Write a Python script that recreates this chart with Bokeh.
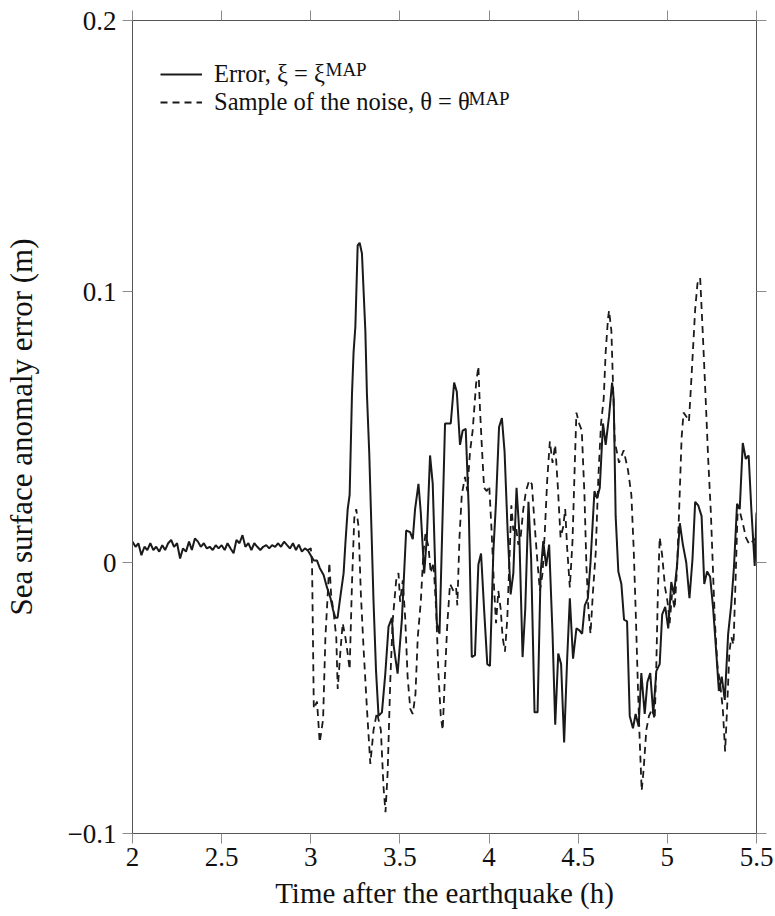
from bokeh.plotting import figure
from bokeh.models import LinearAxis, FixedTicker, Legend, LegendItem, Label, Range1d
from bokeh.embed import file_html
from bokeh.resources import INLINE

# ---- data ----
# Error, xi = xi^MAP  (time in hours, value in metres)
err_t = [2.000, 2.017, 2.033, 2.050, 2.067, 2.083, 2.100, 2.117, 2.133, 2.150,
         2.167, 2.183, 2.200, 2.217, 2.233, 2.250, 2.267, 2.283, 2.300, 2.317,
         2.333, 2.350, 2.367, 2.383, 2.400, 2.417, 2.433, 2.450, 2.467, 2.483,
         2.500, 2.517, 2.533, 2.550, 2.567, 2.583, 2.600, 2.617, 2.633, 2.650,
         2.667, 2.683, 2.700, 2.717, 2.733, 2.750, 2.767, 2.783, 2.800, 2.817,
         2.833, 2.850, 2.867, 2.883, 2.900, 2.917, 2.933, 2.950, 2.967, 2.983,
         3.000, 3.017, 3.035, 3.050, 3.072, 3.090, 3.110, 3.125, 3.138, 3.150,
         3.167, 3.184, 3.195, 3.207, 3.218, 3.231, 3.240, 3.250, 3.263, 3.274,
         3.287, 3.306, 3.315, 3.328, 3.340, 3.352, 3.366, 3.380, 3.399, 3.418,
         3.436, 3.455, 3.464, 3.487, 3.511, 3.535, 3.557, 3.572, 3.585, 3.604,
         3.617, 3.636, 3.651, 3.669, 3.684, 3.707, 3.722, 3.753, 3.785, 3.804,
         3.819, 3.837, 3.852, 3.869, 3.886, 3.903, 3.921, 3.940, 3.955, 3.972,
         3.990, 4.005, 4.024, 4.039, 4.056, 4.072, 4.087, 4.104, 4.121, 4.136,
         4.154, 4.169, 4.188, 4.203, 4.221, 4.236, 4.255, 4.272, 4.289, 4.304,
         4.320, 4.337, 4.356, 4.371, 4.388, 4.404, 4.421, 4.438, 4.453, 4.471,
         4.490, 4.506, 4.522, 4.537, 4.554, 4.569, 4.591, 4.606, 4.621, 4.639,
         4.654, 4.673, 4.690, 4.699, 4.710, 4.725, 4.742, 4.757, 4.774, 4.789,
         4.807, 4.822, 4.839, 4.854, 4.873, 4.888, 4.904, 4.921, 4.938, 4.957,
         4.971, 4.988, 5.005, 5.022, 5.037, 5.054, 5.070, 5.087, 5.106, 5.124,
         5.141, 5.156, 5.173, 5.192, 5.207, 5.223, 5.240, 5.257, 5.274, 5.289,
         5.305, 5.322, 5.341, 5.358, 5.374, 5.391, 5.406, 5.423, 5.440, 5.456,
         5.471, 5.490, 5.500]
err_v = [0.0077, 0.0058, 0.0071, 0.0027, 0.0058, 0.0046, 0.0071, 0.0046, 0.0058, 0.0040,
         0.0064, 0.0046, 0.0071, 0.0083, 0.0058, 0.0071, 0.0015, 0.0052, 0.0040, 0.0077,
         0.0046, 0.0089, 0.0077, 0.0058, 0.0071, 0.0052, 0.0058, 0.0046, 0.0064, 0.0052,
         0.0064, 0.0046, 0.0071, 0.0052, 0.0034, 0.0083, 0.0071, 0.0101, 0.0058, 0.0071,
         0.0046, 0.0071, 0.0058, 0.0046, 0.0058, 0.0064, 0.0052, 0.0064, 0.0058, 0.0071,
         0.0058, 0.0077, 0.0064, 0.0052, 0.0071, 0.0046, 0.0066, 0.0040, 0.0052, 0.0045,
         0.0026, 0.0007, 0.0007, -0.0020, -0.0046, -0.0090, -0.0130, -0.0175, -0.0204, -0.0204,
         -0.0120, -0.0040, 0.0080, 0.0197, 0.0250, 0.0620, 0.0776, 0.0870, 0.1170, 0.1180,
         0.1140, 0.0856, 0.0620, 0.0402, 0.0130, -0.0145, -0.0400, -0.0566, -0.0553, -0.0410,
         -0.0237, -0.0204, -0.0303, -0.0410, -0.0210, 0.0118, 0.0112, 0.0086, 0.0197, 0.0290,
         0.0184, -0.0040, 0.0092, 0.0395, 0.0290, -0.0224, -0.0263, 0.0513, 0.0513, 0.0664,
         0.0630, 0.0434, 0.0487, 0.0493, 0.0197, -0.0349, -0.0342, -0.0007, 0.0033, -0.0171,
         -0.0375, -0.0382, 0.0040, 0.0224, 0.0500, 0.0533, 0.0408, 0.0118, -0.0118, -0.0040,
         0.0276, 0.0118, -0.0349, -0.0171, 0.0224, 0.0013, -0.0553, -0.0553, -0.0040, 0.0079,
         -0.0013, 0.0066, -0.0263, -0.0599, -0.0336, -0.0375, -0.0664, -0.0355, -0.0132, -0.0355,
         -0.0243, -0.0250, -0.0263, -0.0158, -0.0132, 0.0000, 0.0263, 0.0237, 0.0276, 0.0513,
         0.0434, 0.0540, 0.0664, 0.0605, 0.0171, -0.0033, -0.0079, -0.0211, -0.0217, -0.0566,
         -0.0612, -0.0559, -0.0605, -0.0408, -0.0559, -0.0441, -0.0408, -0.0559, -0.0401, -0.0375,
         -0.0191, -0.0164, -0.0243, -0.0072, -0.0118, -0.0013, 0.0145, 0.0066, 0.0000, -0.0132,
         0.0013, 0.0224, 0.0211, 0.0171, -0.0079, -0.0033, -0.0053, -0.0171, -0.0329, -0.0474,
         -0.0421, -0.0507, -0.0263, -0.0158, -0.0013, 0.0217, 0.0197, 0.0441, 0.0382, 0.0395,
         0.0197, -0.0013, 0.0184]

# Sample of the noise, theta = theta^MAP
noise_t = [2.983, 3.000, 3.007, 3.017, 3.035, 3.050, 3.069, 3.082, 3.095, 3.104,
           3.114, 3.128, 3.143, 3.151, 3.166, 3.179, 3.194, 3.207, 3.218, 3.231,
           3.244, 3.255, 3.268, 3.281, 3.296, 3.315, 3.334, 3.352, 3.371, 3.393,
           3.408, 3.419, 3.431, 3.446, 3.460, 3.479, 3.492, 3.501, 3.516, 3.530,
           3.543, 3.558, 3.572, 3.587, 3.600, 3.617, 3.632, 3.643, 3.660, 3.673,
           3.688, 3.703, 3.716, 3.729, 3.740, 3.753, 3.766, 3.781, 3.800, 3.815,
           3.822, 3.834, 3.847, 3.865, 3.878, 3.893, 3.908, 3.927, 3.940, 3.949,
           3.960, 3.972, 3.987, 4.001, 4.014, 4.028, 4.039, 4.052, 4.065, 4.076,
           4.089, 4.102, 4.113, 4.125, 4.136, 4.151, 4.164, 4.177, 4.192, 4.207,
           4.225, 4.240, 4.255, 4.270, 4.285, 4.300, 4.313, 4.326, 4.341, 4.356,
           4.371, 4.386, 4.401, 4.416, 4.427, 4.438, 4.453, 4.468, 4.481, 4.490,
           4.505, 4.520, 4.535, 4.546, 4.557, 4.569, 4.583, 4.598, 4.613, 4.628,
           4.643, 4.654, 4.667, 4.673, 4.686, 4.705, 4.729, 4.755, 4.779, 4.798,
           4.811, 4.822, 4.835, 4.845, 4.856, 4.867, 4.882, 4.897, 4.915, 4.929,
           4.938, 4.947, 4.957, 4.971, 4.987, 5.001, 5.013, 5.026, 5.041, 5.055,
           5.069, 5.080, 5.091, 5.106, 5.121, 5.132, 5.143, 5.156, 5.169, 5.184,
           5.199, 5.214, 5.229, 5.244, 5.255, 5.266, 5.281, 5.296, 5.311, 5.324,
           5.335, 5.348, 5.359, 5.371, 5.382, 5.395, 5.408, 5.423, 5.441, 5.460,
           5.479, 5.500]
noise_v = [0.0045, 0.0053, 0.0000, -0.0540, -0.0513, -0.0664, -0.0579, -0.0276, -0.0118, 0.0000,
           -0.0118, -0.0184, -0.0276, -0.0467, -0.0329, -0.0224, -0.0276, -0.0336, -0.0395, -0.0079,
           0.0164, 0.0197, 0.0132, -0.0118, -0.0316, -0.0540, -0.0743, -0.0618, -0.0553, -0.0618,
           -0.0829, -0.0921, -0.0776, -0.0434, -0.0210, -0.0066, -0.0039, -0.0145, -0.0066, -0.0210,
           -0.0421, -0.0540, -0.0559, -0.0487, -0.0276, -0.0145, 0.0039, 0.0105, 0.0059, -0.0039,
           0.0000, -0.0171, -0.0408, -0.0566, -0.0618, -0.0408, -0.0224, -0.0079, -0.0105, -0.0092,
           -0.0158, 0.0092, 0.0250, 0.0316, 0.0263, 0.0408, 0.0487, 0.0658, 0.0724, 0.0566,
           0.0421, 0.0276, 0.0263, 0.0283, 0.0118, -0.0092, -0.0224, -0.0105, -0.0171, -0.0276,
           -0.0329, -0.0210, -0.0013, 0.0211, 0.0118, 0.0132, 0.0066, 0.0092, 0.0197, 0.0263,
           0.0303, 0.0289, 0.0145, 0.0013, -0.0105, -0.0039, 0.0118, 0.0303, 0.0447, 0.0368,
           0.0434, 0.0276, 0.0092, 0.0132, 0.0197, 0.0053, -0.0092, 0.0079, 0.0368, 0.0553,
           0.0513, 0.0487, 0.0250, -0.0013, -0.0171, -0.0263, -0.0105, 0.0034, 0.0316, 0.0513,
           0.0605, 0.0776, 0.0900, 0.0930, 0.0855, 0.0447, 0.0368, 0.0414, 0.0342, 0.0250,
           0.0053, -0.0171, -0.0461, -0.0658, -0.0842, -0.0763, -0.0618, -0.0566, -0.0540, -0.0579,
           -0.0382, -0.0105, 0.0092, 0.0026, -0.0092, -0.0145, -0.0224, -0.0118, -0.0171, -0.0013,
           0.0250, 0.0461, 0.0553, 0.0539, 0.0520, 0.0645, 0.0776, 0.0934, 0.1030, 0.1050,
           0.0842, 0.0618, 0.0382, 0.0184, -0.0013, -0.0210, -0.0382, -0.0447, -0.0540, -0.0697,
           -0.0540, -0.0329, -0.0276, -0.0303, -0.0079, 0.0211, 0.0184, 0.0145, 0.0092, 0.0066,
           0.0079, 0.0092]

x_ticks = [2, 2.5, 3, 3.5, 4, 4.5, 5, 5.5]
y_ticks = [-0.1, 0, 0.1, 0.2]
y_tick_labels = ["\u22120.1", "0", "0.1", "0.2"]

legend_labels = ["Error, \u03be = \u03be", "Sample of the noise, \u03b8 = \u03b8"]
legend_sup = "MAP"
x_label = "Time after the earthquake (h)"
y_label = "Sea surface anomaly error (m)"

FONT = "Liberation Serif"
INK = "#1a1a1a"
FRAME = "#555555"
TICK = "#8c8c8c"

p = figure(width=775, height=916, x_range=Range1d(2, 5.5), y_range=Range1d(-0.1, 0.2),
           output_backend="svg", toolbar_location=None,
           min_border_left=130, min_border_right=19, min_border_top=20, min_border_bottom=83)
p.xgrid.visible = False
p.ygrid.visible = False
p.outline_line_color = FRAME
p.outline_line_width = 1
p.background_fill_color = "white"
p.border_fill_color = "white"

r1 = p.line(err_t, err_v, line_color=INK, line_width=2)
r2 = p.line(noise_t, noise_v, line_color=INK, line_width=1.8, line_dash="7 5")

bottom_ax = p.below[0]
left_ax = p.left[0]
top_ax = LinearAxis()
right_ax = LinearAxis()
p.add_layout(top_ax, "above")
p.add_layout(right_ax, "right")

def style(ax, ticks):
    ax.ticker = FixedTicker(ticks=ticks)
    ax.major_tick_out = 10
    ax.major_tick_in = 0
    ax.minor_tick_out = 0
    ax.minor_tick_in = 0
    ax.major_tick_line_color = TICK
    ax.major_tick_line_width = 1
    ax.axis_line_color = FRAME
    ax.major_label_text_font = FONT
    ax.major_label_text_color = "#111111"

style(bottom_ax, x_ticks)
style(left_ax, y_ticks)
style(top_ax, x_ticks)
style(right_ax, y_ticks)

bottom_ax.major_label_text_font_size = "27px"
bottom_ax.major_label_standoff = 4
left_ax.major_label_text_font_size = "27px"
left_ax.major_label_standoff = 6
left_ax.major_label_overrides = {t: s for t, s in zip(y_ticks, y_tick_labels)}

# frame ticks on top and right carry no labels
top_ax.major_label_overrides = {t: "" for t in x_ticks}
right_ax.major_label_overrides = {t: "" for t in y_ticks}
for ax in (top_ax, right_ax):
    ax.major_label_text_font_size = "4px"
    ax.major_label_standoff = 0

bottom_ax.axis_label = x_label
left_ax.axis_label = y_label
for ax in (bottom_ax, left_ax):
    ax.axis_label_text_font = FONT
    ax.axis_label_text_font_style = "normal"
    ax.axis_label_text_color = "#111111"
bottom_ax.axis_label_text_font_size = "29px"
bottom_ax.axis_label_standoff = 8
left_ax.axis_label_text_font_size = "31px"
left_ax.axis_label_standoff = 26

legend = Legend(items=[LegendItem(label=legend_labels[0], renderers=[r1]),
                       LegendItem(label=legend_labels[1], renderers=[r2])],
                location=(28, 717), glyph_width=42, glyph_height=20, label_standoff=12,
                padding=10, spacing=-3, margin=0, border_line_color=None,
                background_fill_alpha=0, label_text_font=FONT, label_text_font_size="24.5px",
                label_text_color="#111111")
p.add_layout(legend)

for xs, ys in [(193, 764), (336, 735)]:
    p.add_layout(Label(x=xs, y=ys, x_units="screen", y_units="screen", text=legend_sup,
                       text_font=FONT, text_font_size="19px", text_color="#111111",
                       text_baseline="alphabetic"))

open("out.html", "w").write(file_html(p, INLINE))
